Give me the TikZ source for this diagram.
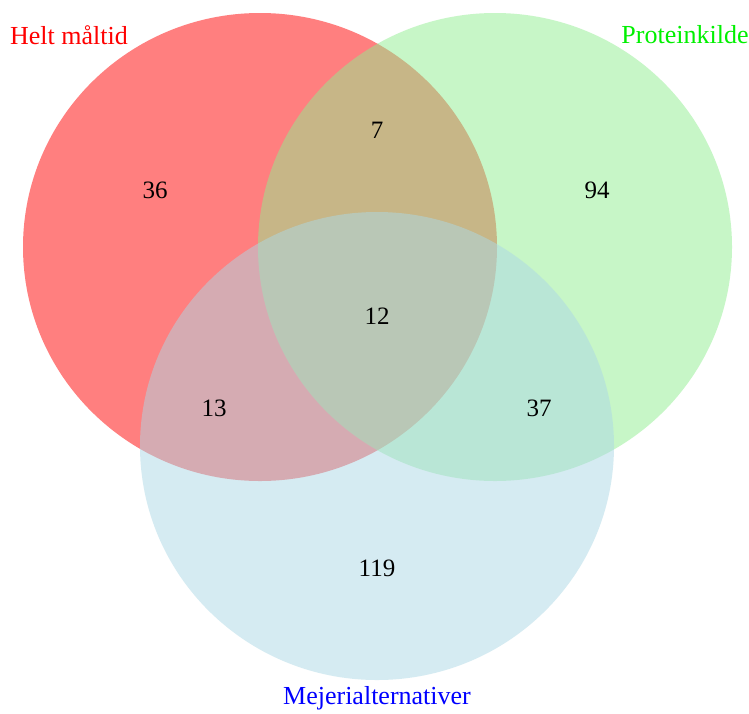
\documentclass[tikz,border=0pt]{standalone}
\usepackage{fontspec}
\setmainfont{Liberation Serif}
\usetikzlibrary{shapes.geometric}
\definecolor{setred}{RGB}{255,0,0}
\definecolor{setgreen}{RGB}{144,238,144}
\definecolor{setblue}{RGB}{173,216,230}
\definecolor{labgreen}{RGB}{0,240,0}
\begin{document}
\begin{tikzpicture}[x=1pt,y=-1pt,
  setshape/.style={shape=ellipse, minimum width=474pt, minimum height=468pt, inner sep=0pt, outer sep=0pt, fill opacity=0.5, draw=none},
  count/.style={font=\fontsize{25}{28}\selectfont, text=black},
  setlabel/.style={font=\fontsize{26}{30}\selectfont}]
\useasboundingbox (0,0) rectangle (749,713);
\fill[white] (0,0) rectangle (749,713);
\node[setshape, fill=setred] (helt) at (260,247) {};
\node[setshape, fill=setgreen] (prot) at (495,247) {};
\node[setshape, fill=setblue] (mej) at (377,446) {};
\node[setlabel, text=setred] (lhelt) at (69,35) {Helt måltid};
\node[setlabel, text=labgreen] (lprot) at (685,35) {Proteinkilde};
\node[setlabel, text=blue] (lmej) at (377,698) {Mejerialternativer};
\node[count] (n1) at (155,190) {36};
\node[count] (n2) at (377,130) {7};
\node[count] (n3) at (597,190) {94};
\node[count] (n4) at (377,316) {12};
\node[count] (n5) at (214,408) {13};
\node[count] (n6) at (539,408) {37};
\node[count] (n7) at (377,568) {119};
\end{tikzpicture}
\end{document}
